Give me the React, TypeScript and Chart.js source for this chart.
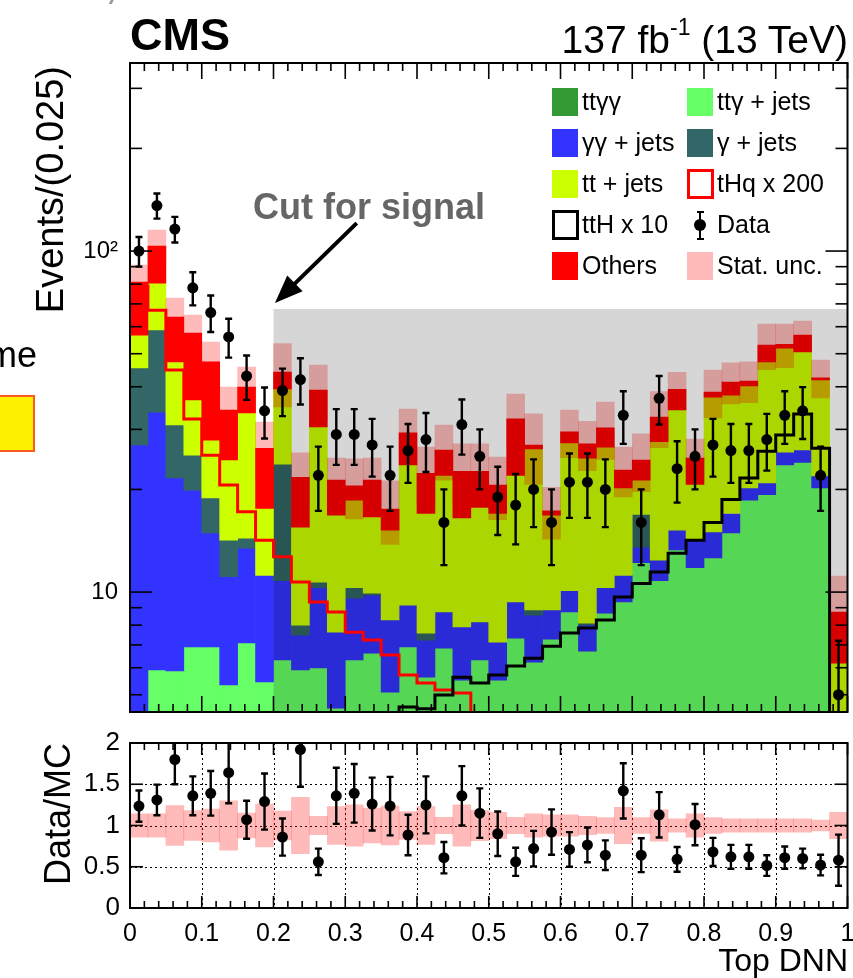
import React, { useEffect, useRef } from 'react';
import { Chart, registerables } from 'chart.js';

Chart.register(...registerables);

const FONT = '"Liberation Sans", Arial, Helvetica, sans-serif';
Chart.defaults.font.family = FONT;
Chart.defaults.color = '#000';

// ---------------- binning (Top DNN, 40 bins of 0.025) ----------------
const N_BINS = 40;
const BIN_W = 0.025;
const binLabels = Array.from({ length: N_BINS }, (_, i) => ((i + 0.5) * BIN_W).toFixed(4));
const binEdges = Array.from({ length: N_BINS + 1 }, (_, i) => i * BIN_W);

// ---------------- stacked backgrounds (events / bin) ----------------
const ttgg = [0.05, 0.06, 0.06, 0.07, 0.07, 0.08, 0.08, 0.09, 0.10, 0.10, 0.11, 0.12, 0.13, 0.14, 0.15, 0.16, 0.18, 0.20, 0.22, 0.24, 0.26, 0.29, 0.32, 0.35, 0.38, 0.42, 0.46, 0.50, 0.55, 0.60, 0.65, 0.70, 0.76, 0.82, 0.88, 0.95, 1.02, 1.10, 1.00, 0.10];
const ttgJets = [2.45, 5.85, 5.81, 6.83, 6.83, 5.26, 7.01, 5.36, 6.22, 5.81, 5.88, 4.45, 6.19, 6.48, 4.94, 6.74, 5.45, 6.65, 5.30, 6.08, 5.26, 7.04, 5.91, 6.93, 8.36, 6.29, 8.22, 8.85, 11.65, 10.20, 12.65, 11.10, 11.84, 14.08, 17.72, 18.35, 22.58, 22.90, 19.20, 1.90];
const ggJets = [24.5, 27.79, 15.73, 13.0, 8.0, 5.76, 6.37, 5.75, 4.48, 1.57, 4.31, 3.06, 3.28, 3.18, 3.19, 2.26, 1.60, 1.89, 2.38, 1.85, 1.61, 2.02, 2.33, 1.58, 1.36, 1.29, 1.62, 1.85, 1.35, 1.60, 1.90, 2.40, 2.40, 2.10, 1.60, 1.60, 2.10, 2.10, 1.70, 0.50];
const gJets = [18.4, 25.0, 9.3, 5.3, 4.0, 3.1, 0.94, 0, 12.9, 0.52, 0.4, 0, 0.7, 0.13, 0, 0, 0.35, 0, 0, 0, 0, 0, 0.3, 0, 0, 0.11, 0, 0, 3.35, 0, 0, 0, 0, 0, 0, 0, 0, 0, 0, 0];
const ttJets = [11.3, 21.8, 16.4, 11.4, 9.0, 10.2, 19.1, 6.4, 15.7, 7.5, 19.8, 9.17, 8.3, 6.67, 6.92, 14.44, 9.42, 13.26, 8.6, 9.53, 9.87, 12.65, 17.44, 7.94, 17.3, 16.59, 16.3, 9.0, 4.4, 15.2, 19.0, 6.5, 22.3, 20.8, 20.0, 26.4, 26.2, 24.5, 20.0, 3.69];
const others = [24.4, 22.9, 16.7, 20.9, 19.4, 9.8, 6.4, 8.8, 4.8, 6.2, 8.6, 4.5, 1.9, 4.7, 2.3, 5.7, 5.3, 4.1, 6.1, 4.9, 3.6, 10.2, 0.7, 0.5, 2.1, 2.5, 3.7, 2.6, 3.1, 5.0, 5.1, 4.0, 1.3, 3.5, 1.4, 5.7, 1.4, 6.1, 0.6, 2.55];
const statUnc = [9.9, 11.8, 8.8, 7.4, 6.8, 5.7, 5.8, 5.1, 9.3, 3.9, 7.2, 3.4, 4.1, 3.4, 3.7, 5.1, 4.3, 4.8, 4.6, 4.6, 4.3, 5.9, 6.3, 3.0, 4.7, 4.5, 5.8, 3.8, 4.7, 6.1, 4.8, 3.4, 6.2, 5.7, 5.7, 8.1, 7.8, 5.6, 5.4, 2.4];

// ---------------- signals (scaled) ----------------
const tHq200 = [79, 67.1, 44.8, 32.2, 25.2, 20.6, 17.2, 14.2, 12.7, 10.7, 9.35, 8.74, 7.63, 7.23, 6.54, 5.71, 5.41, 5.16, 5.06, 3.9, 3.5, 3.2, 3.0, 2.8, 2.6, 2.4, 2.2, 2.1, 1.9, 1.8, 1.7, 1.6, 1.5, 1.4, 1.3, 1.2, 1.1, 1.0, 0.9, 0.5];
const ttH10 = [0.3, 0.3, 0.4, 0.4, 0.5, 0.6, 0.7, 0.8, 1.0, 1.2, 1.5, 1.8, 2.2, 2.8, 3.5, 4.6, 4.55, 4.99, 5.63, 5.41, 5.71, 6.07, 6.4, 6.94, 7.58, 7.85, 8.28, 9.67, 10.6, 11.45, 13.0, 14.2, 16.0, 18.7, 21.6, 25.9, 28.9, 33.3, 26.4, 0.5];

// ---------------- data ----------------
const dataVals = [100, 136, 116, 78, 66, 56, 43, 34, 39, 42, 22, 29, 29, 27, 22, 26, 28, 16, 31, 25, 19, 18, 20, 16, 21, 21, 20, 33, 16, 37, 23, 25, 27, 26, 26, 28, 33, 34, 22, 5];
const dataErr = [10.0, 11.5, 10.0, 8.7, 8.1, 7.3, 6.4, 5.8, 6.2, 6.5, 4.7, 5.4, 5.4, 5.2, 4.7, 5.1, 5.5, 4.0, 5.7, 5.0, 4.3, 4.2, 4.5, 4.0, 4.5, 4.5, 4.5, 5.8, 4.0, 6.0, 4.7, 5.0, 5.2, 5.1, 5.1, 5.3, 5.8, 5.9, 4.7, 2.2];

// ---------------- ratio panel ----------------
const ratioVals = [1.235, 1.31, 1.80, 1.36, 1.39, 1.64, 1.07, 1.29, 0.86, 1.92, 0.56, 1.36, 1.39, 1.26, 1.235, 0.885, 1.25, 0.61, 1.36, 1.15, 0.90, 0.56, 0.72, 0.92, 0.71, 0.765, 0.64, 1.42, 0.64, 1.13, 0.59, 1.01, 0.68, 0.62, 0.62, 0.515, 0.61, 0.60, 0.52, 0.58];
const ratioErr = [0.19, 0.185, 0.30, 0.235, 0.27, 0.37, 0.23, 0.34, 0.225, 0.45, 0.16, 0.34, 0.355, 0.32, 0.355, 0.245, 0.345, 0.19, 0.36, 0.30, 0.27, 0.17, 0.215, 0.275, 0.21, 0.21, 0.18, 0.335, 0.205, 0.275, 0.15, 0.25, 0.17, 0.145, 0.145, 0.125, 0.135, 0.12, 0.125, 0.31];
const ratioUnc = [0.14, 0.14, 0.24, 0.18, 0.20, 0.30, 0.15, 0.26, 0.175, 0.34, 0.11, 0.23, 0.25, 0.21, 0.235, 0.17, 0.23, 0.10, 0.25, 0.185, 0.16, 0.10, 0.14, 0.13, 0.13, 0.11, 0.095, 0.22, 0.095, 0.19, 0.08, 0.14, 0.095, 0.08, 0.08, 0.08, 0.08, 0.08, 0.065, 0.16];

// ---------------- axes ----------------
const Y_MIN = 4.45;
const Y_MAX = 356;
const mainYTicks = [10, 100];
const mainYTickLabels = ['10', '10\u00B2'];
const mainYMinor = [5, 6, 7, 8, 9, 20, 30, 40, 50, 60, 70, 80, 90, 200, 300];
const ratioXTicks = [0, 0.1, 0.2, 0.3, 0.4, 0.5, 0.6, 0.7, 0.8, 0.9, 1];
const ratioXTickLabels = ['0', '0.1', '0.2', '0.3', '0.4', '0.5', '0.6', '0.7', '0.8', '0.9', '1'];
const ratioYTicks = [0, 0.5, 1, 1.5, 2];
const ratioYTickLabels = ['0', '0.5', '1', '1.5', '2'];

// ---------------- annotations ----------------
const CUT_X = 0.2;
const CUT_TOP = 67.6;
const ARROW = { x0: 0.316, y0: 120.8, x1: 0.202, y1: 70.4 };

const COLORS = {
  ttgg: '#339933',
  ttg: '#66ff66',
  gg: '#3333ff',
  gj: '#336666',
  tt: '#ccff00',
  oth: '#ff0000',
  unc: 'rgba(255,0,0,0.27)',
  uncLegend: '#ffbaba',
  overlay: 'rgba(0,0,0,0.16)',
};

const STACK = [
  { label: 'ttγγ', vals: ttgg, color: COLORS.ttgg },
  { label: 'ttγ + jets', vals: ttgJets, color: COLORS.ttg },
  { label: 'γγ + jets', vals: ggJets, color: COLORS.gg },
  { label: 'γ + jets', vals: gJets, color: COLORS.gj },
  { label: 'tt + jets', vals: ttJets, color: COLORS.tt },
  { label: 'Others', vals: others, color: COLORS.oth },
];
const BAND_INDEX = STACK.length;

function seg(ctx: CanvasRenderingContext2D, x0: number, y0: number, x1: number, y1: number) {
  ctx.beginPath();
  ctx.moveTo(x0, y0);
  ctx.lineTo(x1, y1);
  ctx.stroke();
}

function drawErrorBars(chart: any, vals: number[], errs: number[], cap: number, lw: number) {
  const { ctx, chartArea: a } = chart;
  const xs = chart.scales.xc;
  const ys = chart.scales.y;
  ctx.save();
  ctx.beginPath();
  ctx.rect(a.left, a.top, a.right - a.left, a.bottom - a.top);
  ctx.clip();
  ctx.strokeStyle = '#000';
  ctx.lineWidth = lw;
  vals.forEach((v, i) => {
    const x = xs.getPixelForValue(i);
    const yt = ys.getPixelForValue(v + errs[i]);
    const lo = v - errs[i];
    const yb = lo > 0 ? ys.getPixelForValue(lo) : a.bottom + 20;
    seg(ctx, x, yt, x, yb);
    seg(ctx, x - cap, yt, x + cap, yt);
    seg(ctx, x - cap, yb, x + cap, yb);
  });
  ctx.restore();
}

const mainDecor = {
  id: 'mainDecor',
  afterDatasetDraw(chart: any, args: any) {
    if (args.index !== BAND_INDEX) return;
    const { ctx, chartArea: a, scales } = chart;
    const x0 = scales.x.getPixelForValue(CUT_X);
    const yT = scales.y.getPixelForValue(CUT_TOP);
    ctx.save();
    ctx.fillStyle = COLORS.overlay;
    ctx.fillRect(x0, yT, a.right - x0, a.bottom - yT);
    ctx.restore();
  },
  afterDatasetsDraw(chart: any) {
    drawErrorBars(chart, dataVals, dataErr, 3.5, 2.4);
    const { ctx, scales } = chart;
    const xs = scales.x;
    const ys = scales.y;
    const ax0 = xs.getPixelForValue(ARROW.x0);
    const ay0 = ys.getPixelForValue(ARROW.y0);
    const ax1 = xs.getPixelForValue(ARROW.x1);
    const ay1 = ys.getPixelForValue(ARROW.y1);
    const ang = Math.atan2(ay1 - ay0, ax1 - ax0);
    const headLen = 28;
    const headHalf = 11;
    const bx = ax1 - headLen * Math.cos(ang);
    const by = ay1 - headLen * Math.sin(ang);
    ctx.save();
    ctx.strokeStyle = '#000';
    ctx.fillStyle = '#000';
    ctx.lineWidth = 4;
    seg(ctx, ax0, ay0, bx + 2 * Math.cos(ang), by + 2 * Math.sin(ang));
    ctx.beginPath();
    ctx.moveTo(ax1, ay1);
    ctx.lineTo(bx + headHalf * Math.sin(ang), by - headHalf * Math.cos(ang));
    ctx.lineTo(bx - headHalf * Math.sin(ang), by + headHalf * Math.cos(ang));
    ctx.closePath();
    ctx.fill();
    ctx.restore();
  },
  afterDraw(chart: any) {
    const { ctx, chartArea: a, scales } = chart;
    ctx.save();
    ctx.strokeStyle = '#000';
    ctx.lineWidth = 1.6;
    for (let k = 0; k <= 50; k++) {
      const px = scales.x.getPixelForValue(k * 0.02);
      const L = k % 5 === 0 ? 16 : 8;
      seg(ctx, px, a.top, px, a.top + L);
      seg(ctx, px, a.bottom, px, a.bottom - L);
    }
    const yTick = (v: number, L: number) => {
      const py = scales.y.getPixelForValue(v);
      seg(ctx, a.left, py, a.left + L, py);
      seg(ctx, a.right, py, a.right - L, py);
    };
    mainYTicks.forEach((v) => yTick(v, 22));
    mainYMinor.forEach((v) => yTick(v, 12));
    ctx.lineWidth = 2;
    ctx.strokeRect(a.left, a.top, a.right - a.left, a.bottom - a.top);
    ctx.restore();
  },
};

const ratioDecor = {
  id: 'ratioDecor',
  beforeDatasetsDraw(chart: any) {
    const { ctx, chartArea: a, scales } = chart;
    ctx.save();
    ctx.strokeStyle = '#000';
    ctx.lineWidth = 1;
    ctx.setLineDash([2, 3]);
    ratioXTicks.forEach((v) => {
      if (v <= 0 || v >= 1) return;
      const px = Math.round(scales.x.getPixelForValue(v)) + 0.5;
      seg(ctx, px, a.top, px, a.bottom);
    });
    ratioYTicks.forEach((v) => {
      if (v <= 0 || v >= 2) return;
      const py = Math.round(scales.y.getPixelForValue(v)) + 0.5;
      seg(ctx, a.left, py, a.right, py);
    });
    ctx.restore();
  },
  afterDatasetsDraw(chart: any) {
    const { ctx, chartArea: a, scales } = chart;
    ctx.save();
    ctx.beginPath();
    ctx.rect(a.left, a.top, a.right - a.left, a.bottom - a.top);
    ctx.clip();
    ctx.strokeStyle = '#000';
    ctx.lineWidth = 2.4;
    ratioVals.forEach((v, i) => {
      const x = scales.xc.getPixelForValue(i);
      const yt = scales.y.getPixelForValue(v + ratioErr[i]);
      const yb = scales.y.getPixelForValue(v - ratioErr[i]);
      seg(ctx, x, yt, x, yb);
      seg(ctx, x - 3.5, yt, x + 3.5, yt);
      seg(ctx, x - 3.5, yb, x + 3.5, yb);
    });
    ctx.restore();
  },
  afterDraw(chart: any) {
    const { ctx, chartArea: a, scales } = chart;
    ctx.save();
    ctx.strokeStyle = '#000';
    ctx.lineWidth = 1.6;
    for (let k = 0; k <= 50; k++) {
      const px = scales.x.getPixelForValue(k * 0.02);
      const L = k % 5 === 0 ? 12 : 7;
      seg(ctx, px, a.bottom, px, a.bottom - L);
      seg(ctx, px, a.top, px, a.top + L);
    }
    ratioYTicks.forEach((v) => {
      const py = scales.y.getPixelForValue(v);
      seg(ctx, a.left, py, a.left + 13, py);
      seg(ctx, a.right, py, a.right - 13, py);
    });
    ctx.lineWidth = 2;
    ctx.strokeRect(a.left, a.top, a.right - a.left, a.bottom - a.top);
    ctx.restore();
  },
};

function stepPoints(vals: number[]) {
  const pts = vals.map((v, i) => ({ x: binEdges[i], y: v }));
  pts.push({ x: binEdges[N_BINS], y: vals[N_BINS - 1] });
  return pts;
}

function mainConfig(): any {
  const cum = new Array(N_BINS).fill(0);
  const stackSets = STACK.map((s, k) => {
    const data = s.vals.map((v, i) => {
      const lo = cum[i];
      const hi = lo + v;
      cum[i] = hi;
      return v > 0 ? [Math.max(lo, 0.01), hi] : null;
    });
    return {
      type: 'bar',
      label: s.label,
      data,
      backgroundColor: s.color,
      borderWidth: 0,
      xAxisID: 'xc',
      yAxisID: 'y',
      grouped: false,
      barPercentage: 1,
      categoryPercentage: 1,
      order: 20 - k,
      clip: 0,
    };
  });
  const totals = cum.slice();
  const band = {
    type: 'bar',
    label: 'Stat. unc.',
    data: totals.map((t, i) => [t - statUnc[i], t + statUnc[i]]),
    backgroundColor: COLORS.unc,
    borderWidth: 0,
    xAxisID: 'xc',
    yAxisID: 'y',
    grouped: false,
    barPercentage: 1,
    categoryPercentage: 1,
    order: 5,
    clip: 0,
  };
  const lineCommon = {
    type: 'line',
    xAxisID: 'x',
    yAxisID: 'y',
    stepped: true,
    borderWidth: 3,
    pointRadius: 0,
    fill: false,
    borderJoinStyle: 'miter',
    borderCapStyle: 'butt',
    clip: 1,
  };
  return {
    type: 'bar',
    data: {
      labels: binLabels,
      datasets: [
        ...stackSets,
        band,
        { ...lineCommon, label: 'tHq x 200', data: stepPoints(tHq200), borderColor: '#ff0000', order: 3 },
        { ...lineCommon, label: 'ttH x 10', data: stepPoints(ttH10), borderColor: '#000000', order: 2 },
        {
          type: 'line',
          label: 'Data',
          data: dataVals,
          xAxisID: 'xc',
          yAxisID: 'y',
          showLine: false,
          pointRadius: 5.5,
          pointBackgroundColor: '#000',
          pointBorderColor: '#000',
          pointBorderWidth: 0,
          order: 0,
        },
      ],
    },
    options: {
      responsive: false,
      animation: false,
      events: [],
      devicePixelRatio: 1,
      layout: { padding: { left: 0, right: 5, top: 63, bottom: 8 } },
      plugins: { legend: { display: false }, tooltip: { enabled: false } },
      scales: {
        x: { type: 'linear', min: 0, max: 1, display: false, offset: false, grid: { offset: false } },
        xc: { type: 'category', display: false, offset: true },
        y: {
          type: 'logarithmic',
          position: 'left',
          min: Y_MIN,
          max: Y_MAX,
          afterBuildTicks: (s: any) => {
            s.ticks = mainYTicks.map((v) => ({ value: v }));
          },
          afterFit: (s: any) => {
            s.width = 130;
            s.paddingTop = 0;
            s.paddingBottom = 0;
          },
          ticks: {
            autoSkip: false,
            padding: 12,
            font: { size: 24, family: FONT },
            color: '#000',
            callback: (_v: any, i: number) => mainYTickLabels[i],
          },
          grid: { display: false, drawTicks: false },
          border: { display: false },
        },
      },
    },
    plugins: [mainDecor],
  };
}

function ratioConfig(): any {
  return {
    type: 'bar',
    data: {
      labels: binLabels,
      datasets: [
        {
          type: 'bar',
          label: 'unc',
          data: ratioUnc.map((u) => [1 - u, 1 + u]),
          backgroundColor: COLORS.unc,
          borderWidth: 0,
          xAxisID: 'xc',
          yAxisID: 'y',
          grouped: false,
          barPercentage: 1,
          categoryPercentage: 1,
          order: 2,
          clip: 0,
        },
        {
          type: 'line',
          label: 'Data/MC',
          data: ratioVals,
          xAxisID: 'xc',
          yAxisID: 'y',
          showLine: false,
          pointRadius: 5.5,
          pointBackgroundColor: '#000',
          pointBorderColor: '#000',
          pointBorderWidth: 0,
          order: 0,
          clip: 0,
        },
      ],
    },
    options: {
      responsive: false,
      animation: false,
      events: [],
      devicePixelRatio: 1,
      layout: { padding: { left: 0, right: 5, top: 23, bottom: 0 } },
      plugins: { legend: { display: false }, tooltip: { enabled: false } },
      scales: {
        x: {
          type: 'linear',
          position: 'bottom',
          min: 0,
          max: 1,
          offset: false,
          afterBuildTicks: (s: any) => {
            s.ticks = ratioXTicks.map((v) => ({ value: v }));
          },
          afterFit: (s: any) => {
            s.height = 70;
            s.paddingLeft = 0;
            s.paddingRight = 0;
          },
          ticks: {
            autoSkip: false,
            maxRotation: 0,
            padding: 11,
            font: { size: 25, family: FONT },
            color: '#000',
            callback: (_v: any, i: number) => ratioXTickLabels[i],
          },
          grid: { display: false, drawTicks: false, offset: false },
          border: { display: false },
        },
        xc: { type: 'category', display: false, offset: true },
        y: {
          type: 'linear',
          position: 'left',
          min: 0,
          max: 2,
          afterBuildTicks: (s: any) => {
            s.ticks = ratioYTicks.map((v) => ({ value: v }));
          },
          afterFit: (s: any) => {
            s.width = 130;
            s.paddingTop = 0;
            s.paddingBottom = 0;
          },
          ticks: {
            autoSkip: false,
            padding: 10,
            font: { size: 26, family: FONT },
            color: '#000',
            callback: (_v: any, i: number) => ratioYTickLabels[i],
          },
          grid: { display: false, drawTicks: false },
          border: { display: false },
        },
      },
    },
    plugins: [ratioDecor],
  };
}

// ---------------- legend ----------------
type LegKind = 'fill' | 'outline' | 'marker';
const legendEntries: { label: string; kind: LegKind; color: string }[][] = [
  [
    { label: 'ttγγ', kind: 'fill', color: COLORS.ttgg },
    { label: 'ttγ + jets', kind: 'fill', color: COLORS.ttg },
  ],
  [
    { label: 'γγ + jets', kind: 'fill', color: COLORS.gg },
    { label: 'γ + jets', kind: 'fill', color: COLORS.gj },
  ],
  [
    { label: 'tt + jets', kind: 'fill', color: COLORS.tt },
    { label: 'tHq x 200', kind: 'outline', color: '#ff0000' },
  ],
  [
    { label: 'ttH x 10', kind: 'outline', color: '#000000' },
    { label: 'Data', kind: 'marker', color: '#000000' },
  ],
  [
    { label: 'Others', kind: 'fill', color: COLORS.oth },
    { label: 'Stat. unc.', kind: 'fill', color: COLORS.uncLegend },
  ],
];
const LEG_ROW_TOP = [87, 128, 169, 210, 251];
const LEG_BOX_X = [552, 687];
const LEG_TEXT_X = [582, 717];

function LegendBlock() {
  const items: React.ReactNode[] = [];
  legendEntries.forEach((row, r) => {
    row.forEach((e, c) => {
      const top = LEG_ROW_TOP[r];
      const bx = LEG_BOX_X[c];
      const key = `${r}-${c}`;
      if (e.kind === 'fill') {
        items.push(
          <div key={key + 'b'} style={{ position: 'absolute', left: bx, top: top + 1, width: 26, height: 28, background: e.color }} />
        );
      } else if (e.kind === 'outline') {
        items.push(
          <div
            key={key + 'b'}
            style={{ position: 'absolute', left: bx, top: top, width: 27, height: 30, boxSizing: 'border-box', border: `3px solid ${e.color}`, background: '#fff' }}
          />
        );
      } else {
        const cx = bx + 13;
        items.push(
          <div key={key + 'l'} style={{ position: 'absolute', left: cx - 1.2, top: top + 2, width: 2.4, height: 27, background: '#000' }} />,
          <div key={key + 'c1'} style={{ position: 'absolute', left: cx - 3.5, top: top + 1, width: 7, height: 2.4, background: '#000' }} />,
          <div key={key + 'c2'} style={{ position: 'absolute', left: cx - 3.5, top: top + 27.6, width: 7, height: 2.4, background: '#000' }} />,
          <div key={key + 'm'} style={{ position: 'absolute', left: cx - 6, top: top + 9, width: 12, height: 12, borderRadius: '50%', background: '#000' }} />
        );
      }
      items.push(
        <div
          key={key + 't'}
          style={{ position: 'absolute', left: LEG_TEXT_X[c], top: top, height: 28, lineHeight: '28px', fontSize: 25, whiteSpace: 'nowrap', color: '#000' }}
        >
          {e.label}
        </div>
      );
    });
  });
  return <>{items}</>;
}

export default function App() {
  const mainRef = useRef<HTMLCanvasElement>(null);
  const ratioRef = useRef<HTMLCanvasElement>(null);

  useEffect(() => {
    const main = new Chart(mainRef.current as HTMLCanvasElement, mainConfig());
    const ratio = new Chart(ratioRef.current as HTMLCanvasElement, ratioConfig());
    return () => {
      main.destroy();
      ratio.destroy();
    };
  }, []);

  const txt: React.CSSProperties = { position: 'absolute', whiteSpace: 'nowrap', color: '#000', fontFamily: FONT };

  return (
    <div style={{ position: 'absolute', left: 0, top: 0, width: 853, height: 978, overflow: 'hidden', background: '#fff', fontFamily: FONT }}>
      <canvas ref={mainRef} width={853} height={720} style={{ position: 'absolute', left: 0, top: 0, width: 853, height: 720 }} />
      <canvas ref={ratioRef} width={853} height={258} style={{ position: 'absolute', left: 0, top: 720, width: 853, height: 258 }} />

      {/* cropped fragments of the neighbouring figure */}
      <div style={{ position: 'absolute', left: 110, top: -1, width: 3, height: 5, background: '#999', transform: 'skewX(-25deg)' }} />
      <div style={{ ...txt, right: 816, top: 337, fontSize: 36, lineHeight: '36px' }}>me</div>
      <div style={{ position: 'absolute', left: -6, top: 395, width: 41, height: 57, boxSizing: 'border-box', border: '2px solid #ff5a1e', background: '#fff200' }} />

      <div style={{ ...txt, left: 130, top: 12, fontSize: 45, lineHeight: '45px', fontWeight: 'bold' }}>CMS</div>
      <div style={{ ...txt, right: 5, top: 20, fontSize: 39, lineHeight: '39px' }}>
        137 fb<span style={{ fontSize: 23, position: 'relative', top: -18 }}>-1</span> (13 TeV)
      </div>
      <div style={{ ...txt, left: 253, top: 188.5, fontSize: 36, lineHeight: '36px', fontWeight: 'bold', color: '#666666' }}>Cut for signal</div>

      <LegendBlock />

      <div
        style={{ ...txt, left: 31, top: 386, width: 320, height: 38, fontSize: 38, lineHeight: '38px', textAlign: 'right', transform: 'rotate(-90deg)', transformOrigin: 'left top' }}
      >
        Events/(0.025)
      </div>
      <div
        style={{ ...txt, left: 39.5, top: 1063, width: 320, height: 36, fontSize: 36, lineHeight: '36px', textAlign: 'right', transform: 'rotate(-90deg)', transformOrigin: 'left top' }}
      >
        Data/MC
      </div>
      <div style={{ ...txt, right: 5, top: 944, fontSize: 32, lineHeight: '32px' }}>Top DNN</div>
    </div>
  );
}
